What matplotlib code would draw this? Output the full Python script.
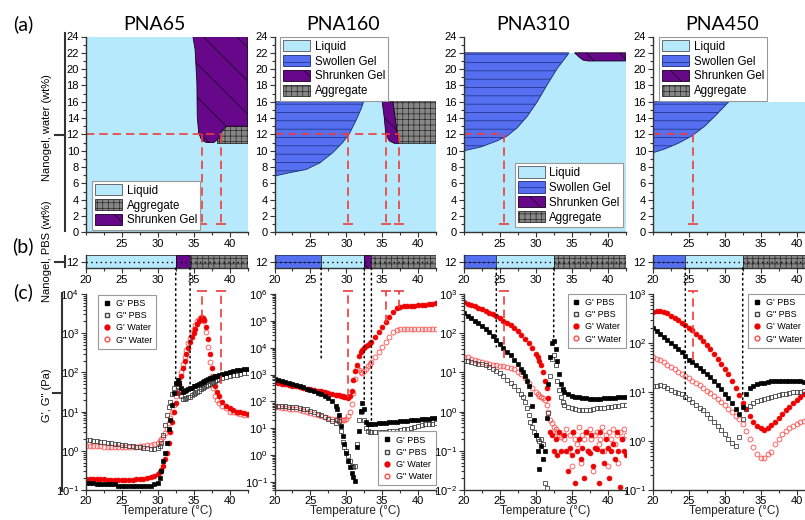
import matplotlib
matplotlib.use("Agg")
import matplotlib.pyplot as plt
from matplotlib.patches import Patch, Rectangle, ConnectionPatch
from matplotlib.lines import Line2D
from matplotlib.ticker import MultipleLocator, FixedLocator

plt.rcParams['font.family'] = ['Liberation Sans', 'DejaVu Sans']
plt.rcParams['hatch.linewidth'] = 0.5

W, H = 805, 520
NAMES = ["PNA65", "PNA160", "PNA310", "PNA450"]
NANOGEL_WT = 12      # wt% used for the rheology
CAP_WT = 1           # lower end of the red guide lines in (a)

# ---------------------------------------------------------------- (a) phase maps
liquid_top = [24, 16, 22, 16]

agg65_x = [38.2, 42.5, 42.5, 38.2]
agg65_y = [11.0, 11.0, 13.0, 13.0]
shr65_x = [34.9, 35.2, 35.45, 35.5, 35.7, 36.1, 36.8, 37.8, 38.5, 38.9, 39.6, 42.5, 42.5]
shr65_y = [24.0, 22.4, 18.3, 14.2, 12.2, 11.3, 11.0, 11.0, 11.5, 12.4, 13.0, 13.0, 24.0]

sw160_x = [20, 22.1, 24.4, 26.3, 28.1, 29.5, 30.5, 31.4, 32.1, 32.4, 20]
sw160_y = [6.9, 7.3, 7.7, 8.5, 9.75, 11.0, 12.2, 13.8, 15.2, 16.0, 16.0]
shr160_x = [35.0, 35.3, 35.5, 36.0, 36.7, 37.3, 37.1, 36.8, 36.5]
shr160_y = [16.0, 14.0, 12.0, 11.2, 10.9, 10.9, 12.0, 14.0, 16.0]
agg160_x = [36.5, 36.8, 37.1, 37.3, 42.5, 42.5]
agg160_y = [16.0, 14.0, 12.0, 10.9, 10.9, 16.0]

sw310_x = [20, 22.3, 24.6, 26.0, 27.4, 28.8, 30.2, 31.6, 33.0, 34.4, 34.6, 20]
sw310_y = [10.0, 10.45, 11.2, 11.8, 12.8, 14.2, 16.0, 18.1, 20.1, 21.7, 22.0, 22.0]
shr310_x = [35.4, 36.0, 36.6, 37.3, 42.5, 42.5]
shr310_y = [22.0, 21.5, 21.1, 21.0, 21.0, 22.0]

sw450_x = [20, 21.6, 23.5, 25.4, 27.2, 28.6, 29.8, 30.55, 20]
sw450_y = [9.75, 10.2, 10.9, 11.8, 13.0, 14.2, 15.3, 16.0, 16.0]

red_x = [[36.1, 38.8], [30.2, 35.5, 37.3], [25.6], [25.6]]

# ---------------------------------------------------------------- (b) PBS bands
band_edges = [[20, 32.5, 34.5, 42.5],
              [20, 26.5, 32.5, 33.5, 42.5],
              [20, 24.5, 32.5, 42.5],
              [20, 24.5, 32.5, 42.5]]
band_phase = [["Liquid", "Shrunken Gel", "Aggregate"],
              ["Swollen Gel", "Liquid", "Shrunken Gel", "Aggregate"],
              ["Swollen Gel", "Liquid", "Aggregate"],
              ["Swollen Gel", "Liquid", "Aggregate"]]

# ---------------------------------------------------------------- (c) rheology
T65 = [20, 20.5, 21, 21.5, 22, 22.5, 23, 23.5, 24, 24.5, 25, 25.5, 26, 26.5, 27, 27.5, 28, 28.5, 29, 29.5,
       30, 30.25, 30.5, 30.75, 31, 31.25, 31.5, 31.75, 32, 32.25, 32.5, 32.75, 33, 33.25, 33.5, 33.75,
       34, 34.25, 34.5, 34.75, 35, 35.25, 35.5, 35.75, 36, 36.25, 36.5, 36.75, 37, 37.25, 37.5, 37.75,
       38, 38.25, 38.5, 39, 39.5, 40, 40.5, 41, 41.5, 42, 42.5]
gp_pbs_65 = [0.15, 0.15, 0.15, 0.14, 0.14, 0.14, 0.14, 0.14, 0.14, 0.13, 0.13, 0.13, 0.13, 0.13, 0.13, 0.13, 0.13, 0.13, 0.13, 0.14,
             0.15, 0.2, 0.3, 0.55, 0.9, 1.6, 3.5, 6, 15, 30, 55, 63, 55, 40, 32, 33,
             35, 37, 39, 41, 44, 46, 49, 52, 55, 58, 61, 64, 67, 70, 73, 76,
             80, 83, 86, 90, 96, 102, 107, 112, 116, 120, 124]
gpp_pbs_65 = [1.9, 1.85, 1.8, 1.75, 1.7, 1.65, 1.6, 1.55, 1.5, 1.45, 1.42, 1.38, 1.35, 1.3, 1.27, 1.24, 1.2, 1.15, 1.1, 1.1,
              1.15, 1.3, 1.6, 2.5, 4.5, 8, 13, 18, 28, 40, 50, 45, 33, 25, 21, 21,
              22, 23, 24, 26, 28, 30, 32, 34, 37, 39, 42, 45, 48, 51, 54, 57,
              60, 63, 66, 70, 75, 80, 84, 88, 92, 95, 98]
gp_w_65 = [0.19, 0.19, 0.19, 0.19, 0.19, 0.19, 0.18, 0.18, 0.18, 0.18, 0.18, 0.18, 0.18, 0.18, 0.19, 0.19, 0.19, 0.2, 0.21, 0.23,
           0.25, 0.28, 0.33, 0.42, 0.6, 0.9, 1.6, 3, 5.5, 10, 17, 30, 50, 80, 130, 200,
           300, 420, 580, 780, 1000, 1300, 1700, 2100, 2400, 2500, 2200, 1400, 700, 300, 130, 70,
           45, 32, 25, 18, 14, 12, 11, 10, 9.5, 9, 8.5]
gpp_w_65 = [1.35, 1.33, 1.32, 1.3, 1.3, 1.28, 1.27, 1.26, 1.25, 1.25, 1.25, 1.25, 1.25, 1.26, 1.28, 1.3, 1.33, 1.37, 1.42, 1.5,
            1.6, 1.75, 2.0, 2.3, 2.8, 3.5, 5, 7, 10, 15, 25, 40, 65, 100, 160, 250,
            380, 550, 750, 1000, 1300, 1600, 2000, 2300, 2600, 2500, 2000, 1100, 450, 180, 80, 40,
            25, 20, 17, 14, 12, 10, 9.5, 9, 8.5, 8, 8]

T160 = [20, 20.5, 21, 21.5, 22, 22.5, 23, 23.5, 24, 24.5, 25, 25.5, 26, 26.5, 27, 27.5, 28, 28.5,
        28.75, 29, 29.25, 29.5, 29.75, 30, 30.25, 30.5, 30.75, 31, 31.25, 31.5, 31.75, 32, 32.25, 32.5, 32.75, 33, 33.25, 33.5,
        34, 34.5, 35, 35.5, 36, 36.5, 37, 37.5, 38, 38.5, 39, 39.5, 40, 40.5, 41, 41.5, 42, 42.5]
gp_pbs_160 = [700, 640, 590, 540, 490, 450, 410, 370, 330, 300, 270, 240, 210, 185, 160, 135, 105, 70,
              50, 30, 12, 5, 2.5, 1.2, 0.6, 0.35, 0.22, 0.15, 0.11, 2, 8, 45, 90, 50, 17, 15, 15, 15,
              15, 15.5, 16, 16, 16.5, 17, 17.5, 18, 18.5, 19, 19.5, 20, 21, 22, 22.5, 23, 24, 25]
gpp_pbs_160 = [70, 70, 68, 66, 64, 62, 60, 57, 54, 50, 45, 40, 35, 30, 26, 22, 18, 16,
               20, 18, 8, 3, 2, 1.4, 0.9, 0.6, 0.4, 0.35, 0.4, 2.5, 20, 40, 45, 20, 10, 8, 7.5, 7.2,
               7, 7, 7.2, 7.4, 7.6, 7.8, 8, 8.5, 9, 9.5, 10, 11, 12, 13, 14, 14.5, 15, 16]
gp_w_160 = [520, 490, 460, 430, 400, 380, 360, 340, 320, 300, 285, 268, 250, 235, 220, 205, 190, 180,
            175, 170, 160, 155, 150, 140, 135, 160, 250, 600, 1300, 2200, 5000, 7000, 8500, 10000, 11500, 13000, 15000, 17000,
            25000, 38000, 60000, 90000, 140000, 210000, 290000, 330000, 350000, 355000, 360000, 370000, 380000, 390000,
            400000, 420000, 440000, 450000]
gpp_w_160 = [62, 60, 58, 56, 54, 52, 50, 47, 44, 41, 38, 35, 32, 29, 27, 25, 23, 22,
             21, 20, 20, 20, 21, 23, 28, 40, 80, 200, 700, 1800, 1500, 1200, 1150, 1300, 1600, 2000, 2500, 3000,
             4500, 7000, 11000, 17000, 26000, 37000, 46000, 50000, 50000, 49000, 49000, 49000, 49000, 49000,
             49000, 49000, 49000, 49000]

T310 = [20, 20.5, 21, 21.5, 22, 22.5, 23, 23.5, 24, 24.5, 25, 25.5, 26, 26.5, 27, 27.5, 28,
        28.25, 28.5, 28.75, 29, 29.25, 29.5, 29.75, 30, 30.25, 30.5, 30.75, 31, 31.25, 31.5, 31.75, 32,
        32.25, 32.5, 32.75, 33, 33.25, 33.5, 33.75, 34,
        34.5, 35, 35.5, 36, 36.5, 37, 37.5, 38, 38.5, 39, 39.5, 40, 40.5, 41, 41.5, 42, 42.5]
gp_pbs_310 = [320, 280, 240, 210, 180, 150, 125, 105, 85, 68, 52, 42, 33, 27, 21, 16, 12,
              10, 8, 6, 4.4, 2.8, 1.4, 0.6, 0.25, 0.1, 0.035, 0.13, 0.06, 0.1, 0.7, 5, 25, 55, 65, 40, 20, 9, 5, 3.8, 3.2,
              2.8, 2.5, 2.4, 2.3, 2.2, 2.2, 2.1, 2.1, 2.1, 2.1, 2.2, 2.2, 2.2, 2.2, 2.3, 2.3, 2.3]
gpp_pbs_310 = [20, 19, 18, 17, 16.5, 16, 15, 14, 12.5, 11, 9.5, 8, 6.5, 5.5, 4.5, 3.5, 2.8,
               2.4, 1.8, 1.2, 0.8, 0.55, 0.4, 0.3, 0.25, 0.2, 0.18, 0.2, 0.15, 0.015, 0.011, 0.9, 8, 22, 28, 15, 6, 3.5, 2.4, 1.8, 1.5,
               1.3, 1.2, 1.15, 1.1, 1.1, 1.1, 1.1, 1.15, 1.2, 1.2, 1.25, 1.3, 1.3, 1.35, 1.4, 1.45, 1.5]
T310w = [20, 20.5, 21, 21.5, 22, 22.5, 23, 23.5, 24, 24.5, 25, 25.5, 26, 26.5, 27, 27.5, 28, 28.5, 29, 29.5, 30,
         30.25, 30.5, 30.75, 31, 31.25, 31.5, 31.75, 32, 32.25, 32.5, 32.75, 33, 33.25, 33.5]
gp_w_310 = [610, 570, 530, 490, 450, 410, 370, 335, 300, 270, 240, 210, 185, 160, 135, 112, 92, 72, 55, 42, 30,
            25, 20, 15, 10, 6, 4, 2.2, 0.3, 0.25, 0.1, 0.2, 0.08, 0.3, 0.1]
gpp_w_310 = [25, 24, 22, 21, 19, 18, 17, 16, 15, 15, 14.5, 14.5, 14, 13, 12, 10.5, 9, 7, 5.5, 4, 3.2,
             2.8, 2.5, 2.3, 2.2, 2.0, 1.5, 1.0, 0.6, 0.5, 0.4, 0.35, 0.3, 0.25, 0.22]
T310n = [34, 34.25, 34.5, 34.75, 35, 35.25, 35.5, 35.75, 36, 36.25, 36.5, 36.75, 37, 37.25, 37.5, 37.75,
         38, 38.25, 38.5, 38.75, 39, 39.25, 39.5, 39.75, 40, 40.25, 40.5, 40.75, 41, 41.25, 41.5, 41.75,
         42, 42.25, 42.5]
gp_w_310_noise = [0.25, 0.1, 0.03, 0.12, 0.08, 0.3, 0.015, 0.1, 0.2, 0.06, 0.12, 0.02, 0.3, 0.1, 0.09, 0.25,
                  0.04, 0.12, 0.11, 0.015, 0.3, 0.1, 0.05, 0.2, 0.12, 0.02, 0.1, 0.15, 0.06, 0.3, 0.1, 0.012,
                  0.2, 0.1, 0.08]
gpp_w_310_noise = [0.2, 0.35, 0.1, 0.25, 0.04, 0.3, 0.2, 0.15, 0.4, 0.05, 0.25, 0.2, 0.3, 0.1, 0.35, 0.2,
                   0.03, 0.25, 0.3, 0.15, 0.2, 0.4, 0.1, 0.25, 0.04, 0.3, 0.2, 0.35, 0.15, 0.25, 0.05, 0.3,
                   0.2, 0.35, 0.25]

T450 = [20, 20.5, 21, 21.5, 22, 22.5, 23, 23.5, 24, 24.5, 25, 25.5, 26, 26.5, 27, 27.5, 28, 28.5, 29, 29.5,
        30, 30.5, 31, 31.5, 32, 32.5, 33, 33.5, 34, 34.5, 35, 35.5, 36, 36.5, 37, 37.5, 38, 38.5, 39, 39.5,
        40, 40.5, 41, 41.5, 42, 42.5]
gp_pbs_450 = [200, 175, 150, 130, 115, 100, 88, 76, 65, 55, 46, 40, 35, 31, 27, 23, 20, 17, 14, 11.5,
              9.3, 7.5, 6, 4.5, 3.5, 5, 9, 12, 13.5, 14.5, 15, 15.5, 16, 16.5, 16.5, 17, 17, 17, 17, 16.5,
              16.5, 16.5, 16, 16, 16, 16]
gpp_pbs_450 = [13, 13.5, 14, 13, 12, 11, 10, 9.5, 9, 8, 7.2, 6.3, 5.5, 4.8, 4.2, 3.6, 3, 2.4, 2, 1.7,
               1.4, 1.1, 0.9, 0.8, 1.2, 2.8, 4.5, 5.3, 6, 6.5, 7, 7.3, 7.6, 8, 8.4, 8.7, 9, 9.3, 9.6, 9.8,
               10, 10.2, 10.3, 10.4, 10.5, 10.5]
gp_w_450 = [430, 450, 450, 430, 400, 360, 320, 290, 260, 230, 205, 180, 155, 130, 110, 90, 75, 60, 48, 38,
            30, 23, 17, 12, 8.5, 6, 4.5, 3.3, 2.5, 2, 1.8, 1.7, 1.8, 2.1, 2.5, 3, 3.5, 4.2, 5, 6,
            7, 8, 9, 10, 11, 12]
gpp_w_450 = [53, 48, 44, 40, 36, 32, 29, 26, 23, 21, 19, 17, 15.5, 14, 12, 10.5, 9.5, 8.3, 7.2, 6.3,
             5.5, 4.6, 3.9, 3.3, 2.8, 2.2, 1.6, 1.1, 0.75, 0.55, 0.45, 0.45, 0.55, 0.6, 0.85, 1.1, 1.4, 1.6, 1.8, 2,
             2.2, 2.4, 2.6, 2.7, 2.8, 2.9]

c_ylim = [(0.1, 1e4), (0.05, 1e6), (0.01, 1e3), (0.1, 1e3)]
dot_low = [[63, 47], [3900, 90, 19], [45, 80], [7, 6]]     # where the dotted guides end
red_low = [[2500, 50], [140, 8e4, 2.9e5], [23], [45]]       # lower end of red guides in (c)
red_top = [1.2e4, 1.25e6, 1.2e3, 1.15e3]

# ---------------------------------------------------------------- styles
PHASE = {
    "Liquid":       dict(facecolor="#b5e9fb", edgecolor="none", hatch=None),
    "Swollen Gel":  dict(facecolor="#5470f0", edgecolor="#1c2a78", hatch="--"),
    "Shrunken Gel": dict(facecolor="#67088b", edgecolor="#140018", hatch="\\"),
    "Aggregate":    dict(facecolor="#868686", edgecolor="#2a2a2a", hatch="+++"),
}
RED = "#ee3b3b"
DASH = (0, (5, 3))
DOT = (0, (1, 2.4))
INK = "#333333"

COL_L = [86, 274.5, 464, 653]
COL_W = 161.5


def px_rect(l, t, r, b):
    return [l / W, 1 - b / H, (r - l) / W, (b - t) / H]


def style_axis(ax):
    for s in ("top", "right"):
        ax.spines[s].set_visible(False)
    for s in ("left", "bottom"):
        ax.spines[s].set_color(INK)
        ax.spines[s].set_linewidth(1.0)
    ax.tick_params(which="both", direction="out", color=INK, width=0.8,
                   labelsize=8, pad=1.5)
    ax.tick_params(which="major", length=3.5)
    ax.tick_params(which="minor", length=2)


def phase_handle(name):
    st = dict(PHASE[name])
    if name == "Liquid":
        st["edgecolor"] = "#555555"
    return Patch(label=name, linewidth=0.6, **st)


regions = [
    [("Aggregate", agg65_x, agg65_y), ("Shrunken Gel", shr65_x, shr65_y)],
    [("Swollen Gel", sw160_x, sw160_y), ("Aggregate", agg160_x, agg160_y),
     ("Shrunken Gel", shr160_x, shr160_y)],
    [("Swollen Gel", sw310_x, sw310_y), ("Shrunken Gel", shr310_x, shr310_y)],
    [("Swollen Gel", sw450_x, sw450_y)],
]
legend_a = [
    (["Liquid", "Aggregate", "Shrunken Gel"], "lower left", (0.037, 0.012)),
    (["Liquid", "Swollen Gel", "Shrunken Gel", "Aggregate"], "upper left", (0.034, 1.0)),
    (["Liquid", "Swollen Gel", "Shrunken Gel", "Aggregate"], "lower right", (0.985, 0.027)),
    (["Liquid", "Swollen Gel", "Shrunken Gel", "Aggregate"], "upper left", (0.037, 1.0)),
]
rheo = [
    dict(T=T65, gp_pbs=gp_pbs_65, gpp_pbs=gpp_pbs_65, Tw=T65, gp_w=gp_w_65, gpp_w=gpp_w_65),
    dict(T=T160, gp_pbs=gp_pbs_160, gpp_pbs=gpp_pbs_160, Tw=T160, gp_w=gp_w_160, gpp_w=gpp_w_160),
    dict(T=T310, gp_pbs=gp_pbs_310, gpp_pbs=gpp_pbs_310, Tw=T310w, gp_w=gp_w_310, gpp_w=gpp_w_310),
    dict(T=T450, gp_pbs=gp_pbs_450, gpp_pbs=gpp_pbs_450, Tw=T450, gp_w=gp_w_450, gpp_w=gpp_w_450),
]
legend_c = [("upper left", (0.074, 0.995)), ("lower right", (1.0, 0.025)),
            ("upper right", (1.0, 1.0)), ("upper left", (0.59, 1.0))]

fig = plt.figure(figsize=(W / 100, H / 100), dpi=100)

for i in range(4):
    l = COL_L[i]
    r = l + COL_W

    # ---------------- (a)
    ax = fig.add_axes(px_rect(l, 36.5, r, 232.3))
    style_axis(ax)
    ax.add_patch(Rectangle((20, 0), 22.5, liquid_top[i], linewidth=0, **PHASE["Liquid"]))
    for name, xs, ys in regions[i]:
        ax.fill(xs, ys, linewidth=0.6, **PHASE[name])
    ax.plot([20, max(red_x[i])], [NANOGEL_WT, NANOGEL_WT], color=RED, ls=DASH, lw=1.2)
    for x in red_x[i]:
        ax.plot([x, x], [NANOGEL_WT, CAP_WT], color=RED, ls=DASH, lw=1.2)
        ax.plot([x], [CAP_WT], color=RED, marker="_", ms=7, mew=1.2)
    ax.set_xlim(20, 42.5)
    ax.set_ylim(0, 24)
    ax.xaxis.set_major_locator(FixedLocator([25, 30, 35, 40]))
    ax.xaxis.set_minor_locator(MultipleLocator(2.5))
    ax.yaxis.set_major_locator(MultipleLocator(2))
    ax.yaxis.set_minor_locator(MultipleLocator(1))
    names, loc, anchor = legend_a[i]
    leg = ax.legend(handles=[phase_handle(n) for n in names], loc=loc, bbox_to_anchor=anchor,
                    borderaxespad=0, fontsize=8.3, handlelength=2.3, handleheight=1.15,
                    labelspacing=0.2, handletextpad=0.4, borderpad=0.3, fancybox=False,
                    framealpha=1, edgecolor="#999999")
    leg.get_frame().set_linewidth(0.8)

    # ---------------- (b)
    axb = fig.add_axes(px_rect(l, 255, r, 268))
    style_axis(axb)
    edges = band_edges[i]
    for e0, e1, ph in zip(edges[:-1], edges[1:], band_phase[i]):
        st = dict(PHASE[ph])
        if ph == "Liquid":
            st["edgecolor"] = INK
        axb.add_patch(Rectangle((e0, 11.5), e1 - e0, 1.0, linewidth=0.6, **st))
    axb.axhline(NANOGEL_WT, color="black", ls=DOT, lw=1.0)
    axb.set_xlim(20, 42.5)
    axb.set_ylim(11.5, 12.5)
    axb.set_yticks([NANOGEL_WT])
    axb.xaxis.set_major_locator(MultipleLocator(5))
    axb.xaxis.set_minor_locator(MultipleLocator(2.5))

    # ---------------- (c)
    axc = fig.add_axes(px_rect(l, 294, r, 490))
    style_axis(axc)
    axc.set_yscale("log")
    d = rheo[i]
    axc.plot(d["Tw"], d["gpp_w"], ls="none", marker="o", ms=3.5, mfc="none", mec="#ff4d4d", mew=0.6)
    axc.plot(d["Tw"], d["gp_w"], ls="none", marker="o", ms=3.5, mfc="#ee0000", mec="#ee0000", mew=0.5)
    if i == 2:
        axc.plot(T310n, gpp_w_310_noise, ls="none", marker="o", ms=3.5, mfc="none", mec="#ff4d4d", mew=0.6)
        axc.plot(T310n, gp_w_310_noise, ls="none", marker="o", ms=3.5, mfc="#ee0000", mec="#ee0000", mew=0.5)
    axc.plot(d["T"], d["gpp_pbs"], ls="none", marker="s", ms=3.3, mfc="none", mec="#444444", mew=0.6)
    axc.plot(d["T"], d["gp_pbs"], ls="none", marker="s", ms=3.3, mfc="black", mec="black", mew=0.5)
    axc.set_xlim(20, 42.5)
    axc.set_ylim(*c_ylim[i])
    axc.xaxis.set_major_locator(MultipleLocator(5))
    axc.xaxis.set_minor_locator(MultipleLocator(2.5))
    axc.tick_params(axis="x", pad=1)
    axc.set_xlabel("Temperature (\u00b0C)", fontsize=8.5, color="#222222")
    axc.xaxis.set_label_coords(0.5, -0.078)

    for x, yl in zip(red_x[i], red_low[i]):
        axc.plot([x, x], [yl, red_top[i]], color=RED, ls=DASH, lw=1.2, clip_on=False)
        axc.plot([x], [red_top[i]], color=RED, marker="_", ms=7, mew=1.2, clip_on=False)

    for x, yl in zip(edges[1:-1], dot_low[i]):
        con = ConnectionPatch(xyA=(x, 11.5), coordsA=axb.transData,
                              xyB=(x, yl), coordsB=axc.transData,
                              color="black", ls=DOT, lw=1.1)
        fig.add_artist(con)

    handles = [
        Line2D([], [], ls="none", marker="s", ms=3.5, mfc="black", mec="black", label="G' PBS"),
        Line2D([], [], ls="none", marker="s", ms=3.5, mfc="none", mec="#444444", label='G" PBS'),
        Line2D([], [], ls="none", marker="o", ms=3.5, mfc="#ee0000", mec="#ee0000", label="G' Water"),
        Line2D([], [], ls="none", marker="o", ms=3.5, mfc="none", mec="#ff4d4d", label='G" Water'),
    ]
    loc, anchor = legend_c[i]
    leg = axc.legend(handles=handles, loc=loc, bbox_to_anchor=anchor, borderaxespad=0,
                     fontsize=6.5, handlelength=1.0, handletextpad=0.5, labelspacing=0.35,
                     borderpad=0.45, fancybox=False, framealpha=1, edgecolor="#999999")
    leg.get_frame().set_linewidth(0.8)

    # column title
    fig.text((l + COL_W / 2 - 12) / W, 1 - 24 / H, NAMES[i], fontsize=14,
             family=["Lato", "DejaVu Sans"], ha="center", va="center")

# panel letters
for lab, y in (("(a)", 24), ("(b)", 246), ("(c)", 292)):
    fig.text(23 / W, 1 - y / H, lab, fontsize=14, family=["Lato", "DejaVu Sans"],
             ha="center", va="center")

# shared y labels with their brackets
for txt, y in (("Nanogel, water (wt%)", 128), ("Nanogel, PBS (wt%)", 251), ('G\', G" (Pa)', 395)):
    fig.text(47 / W, 1 - y / H, txt, fontsize=8, rotation=90, ha="center", va="center")


def fig_line(xs, ys):
    fig.add_artist(Line2D([x / W for x in xs], [1 - y / H for y in ys],
                          color=INK, lw=1.5, transform=fig.transFigure))


fig_line([65, 65], [33, 231])
fig_line([55, 65], [134.6, 134.6])
fig_line([65, 65], [256, 267])
fig_line([55, 65], [261.5, 261.5])
fig_line([62, 62], [293, 491])
fig_line([53, 62], [393, 393])

fig.savefig("out.png", dpi=100)
